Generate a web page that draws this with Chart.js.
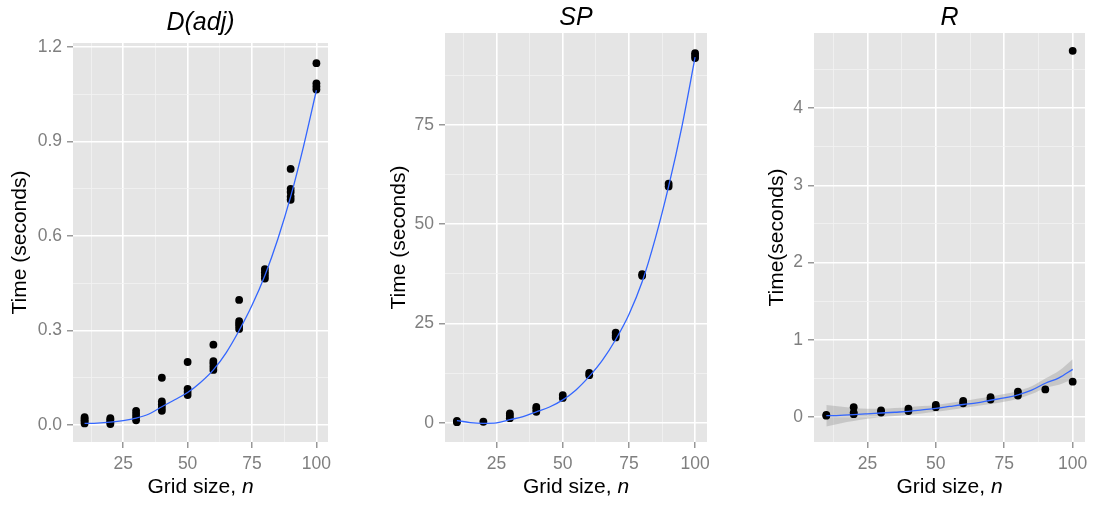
<!DOCTYPE html>
<html>
<head>
<meta charset="utf-8">
<script src="https://cdn.jsdelivr.net/npm/chart.js@4.4.1/dist/chart.umd.min.js"></script>
<style>
  html, body { margin: 0; padding: 0; background: #fff; }
  body { width: 1094px; height: 506px; position: relative; overflow: hidden; }
  canvas { position: absolute; top: 0; }
</style>
</head>
<body>
<canvas id="adj-chart" width="340" height="506" style="left:0px"></canvas>
<canvas id="sp-chart" width="360" height="506" style="left:360px"></canvas>
<canvas id="r-chart" width="364" height="506" style="left:730px"></canvas>
<script>
// grid sizes where runs were timed, several runs per size
const gridSizes = [10, 20, 30, 40, 50, 60, 70, 80, 90, 100];

const adjTimes = [
  [0.005, 0.01, 0.015, 0.02, 0.025],
  [0.003, 0.008, 0.012, 0.018, 0.022],
  [0.015, 0.025, 0.035, 0.045],
  [0.045, 0.055, 0.065, 0.075, 0.15],
  [0.095, 0.105, 0.115, 0.2],
  [0.175, 0.185, 0.195, 0.203, 0.255],
  [0.305, 0.315, 0.322, 0.33, 0.397],
  [0.465, 0.475, 0.485, 0.495],
  [0.715, 0.725, 0.74, 0.75, 0.813],
  [1.065, 1.075, 1.085, 1.149]
];

const spTimes = [
  [0.2, 0.5],
  [0.3],
  [1.2, 1.8, 2.4],
  [2.8, 3.5, 4.0],
  [6.3, 7.0],
  [12.0, 12.6],
  [21.5, 22.0, 22.7],
  [37.0, 37.4],
  [59.5, 60.2],
  [91.8, 92.4, 93.0]
];

const rTimes = [
  [0.02, 0.03],
  [0.04, 0.06, 0.13],
  [0.06, 0.09],
  [0.08, 0.11],
  [0.13, 0.16],
  [0.18, 0.21],
  [0.23, 0.26],
  [0.28, 0.33],
  [0.36],
  [0.46, 4.74]
];

// smoothed fits
const fitSizes = [10, 15, 20, 25, 30, 35, 40, 45, 50, 55, 60, 65, 70, 75, 80, 85, 90, 95, 100];
const adjFit = [0.005, 0.006, 0.009, 0.014, 0.022, 0.035, 0.058, 0.08, 0.103, 0.135, 0.175, 0.23, 0.3, 0.38, 0.475, 0.59, 0.725, 0.885, 1.063];
const spFit = [0.6, 0.1, -0.1, 0.0, 0.8, 1.6, 2.8, 4.0, 5.8, 8.3, 11.7, 15.8, 21.0, 27.3, 35.5, 46.5, 59.5, 74.5, 92.0];
const rFit = [0.02, 0.025, 0.035, 0.045, 0.055, 0.065, 0.075, 0.095, 0.115, 0.14, 0.165, 0.185, 0.22, 0.25, 0.29, 0.35, 0.44, 0.51, 0.62];
const rUpper = [0.16, 0.14, 0.12, 0.11, 0.11, 0.12, 0.13, 0.145, 0.16, 0.185, 0.21, 0.24, 0.27, 0.3, 0.34, 0.4, 0.5, 0.6, 0.75];
const rLower = [-0.12, -0.08, -0.05, -0.02, 0.0, 0.015, 0.03, 0.05, 0.07, 0.095, 0.12, 0.145, 0.17, 0.2, 0.24, 0.3, 0.38, 0.42, 0.49];

// axis ticks
const xMajor = [25, 50, 75, 100];
const xMinor = [12.5, 37.5, 62.5, 87.5];
const adjYMajor = [0, 0.3, 0.6, 0.9, 1.2];
const adjYMinor = [0.15, 0.45, 0.75, 1.05];
const adjYLabels = ["0.0", "0.3", "0.6", "0.9", "1.2"];
const spYMajor = [0, 25, 50, 75];
const spYMinor = [12.5, 37.5, 62.5, 87.5];
const spYLabels = ["0", "25", "50", "75"];
const rYMajor = [0, 1, 2, 3, 4];
const rYMinor = [0.5, 1.5, 2.5, 3.5, 4.5];
const rYLabels = ["0", "1", "2", "3", "4"];

const fontFamily = "'Liberation Sans', Arial, sans-serif";
const panelBg = "#E5E5E5";
const fitBlue = "#3366FF";

function runPoints(times) {
  return gridSizes.flatMap((n, i) => times[i].map((t) => ({ x: n, y: t })));
}

function curvePoints(values) {
  return fitSizes.map((n, i) => ({ x: n, y: values[i] }));
}

const panelBackground = {
  id: "panelBackground",
  beforeDraw(chart) {
    const { ctx, chartArea } = chart;
    ctx.save();
    ctx.fillStyle = panelBg;
    ctx.fillRect(chartArea.left, chartArea.top, chartArea.right - chartArea.left, chartArea.bottom - chartArea.top);
    ctx.restore();
  },
};

// "Grid size, n" with the n in italics
const gridTitle = {
  id: "gridTitle",
  afterDraw(chart, args, opts) {
    const { ctx, chartArea } = chart;
    ctx.save();
    const plain = `${opts.size}px ${fontFamily}`;
    const ital = `italic ${opts.size}px ${fontFamily}`;
    ctx.font = plain;
    const w1 = ctx.measureText(opts.text).width;
    ctx.font = ital;
    const w2 = ctx.measureText(opts.italicText).width;
    const x = (chartArea.left + chartArea.right) / 2 - (w1 + w2) / 2;
    ctx.fillStyle = "#000";
    ctx.textBaseline = "middle";
    ctx.font = plain;
    ctx.fillText(opts.text, x, opts.y);
    ctx.font = ital;
    ctx.fillText(opts.italicText, x + w1, opts.y);
    ctx.restore();
  },
};

function axisTicks(major, minor) {
  return [...major, ...minor].sort((a, b) => a - b).map((v) => ({ value: v }));
}

function makePanel(canvasId, p) {
  const isMajorX = (v) => xMajor.includes(v);
  const isMajorY = (v) => p.yMajor.includes(v);

  const datasets = [];
  if (p.lower) {
    datasets.push({
      data: curvePoints(p.upper),
      showLine: true,
      pointRadius: 0,
      borderWidth: 0,
      borderColor: "rgba(0,0,0,0)",
      backgroundColor: "rgba(153,153,153,0.4)",
      fill: "+1",
      cubicInterpolationMode: "monotone",
      order: 3,
    });
    datasets.push({
      data: curvePoints(p.lower),
      showLine: true,
      pointRadius: 0,
      borderWidth: 0,
      borderColor: "rgba(0,0,0,0)",
      fill: false,
      cubicInterpolationMode: "monotone",
      order: 4,
    });
  }
  datasets.push({
    data: runPoints(p.times),
    pointRadius: 3.9,
    pointBorderWidth: 0,
    pointBackgroundColor: "#000",
    order: 2,
  });
  datasets.push({
    data: curvePoints(p.fit),
    showLine: true,
    pointRadius: 0,
    borderColor: fitBlue,
    borderWidth: 1.3,
    fill: false,
    cubicInterpolationMode: "monotone",
    order: 1,
  });

  return new Chart(document.getElementById(canvasId), {
    type: "scatter",
    data: { datasets },
    plugins: [panelBackground, gridTitle],
    options: {
      responsive: false,
      animation: false,
      layout: { padding: { left: 0, right: p.padRight, top: 0, bottom: 0 } },
      plugins: {
        legend: { display: false },
        tooltip: { enabled: false },
        title: {
          display: true,
          fullSize: false,
          text: p.title,
          color: "#000",
          font: { family: fontFamily, size: 25, style: "italic", weight: "normal" },
          padding: p.titlePad,
        },
        gridTitle: { text: "Grid size, ", italicText: "n", size: 21, y: 487 },
      },
      scales: {
        x: {
          type: "linear",
          min: 5.5,
          max: 104.5,
          afterBuildTicks: (scale) => { scale.ticks = axisTicks(xMajor, xMinor); },
          afterFit: (scale) => { scale.height = 64; scale.paddingLeft = 0; scale.paddingRight = 0; },
          border: { display: false },
          grid: {
            color: (ctx) => (isMajorX(ctx.tick.value) ? "#FFFFFF" : "#F2F2F2"),
            lineWidth: (ctx) => (isMajorX(ctx.tick.value) ? 1.6 : 0.8),
            tickColor: (ctx) => (isMajorX(ctx.tick.value) ? "#7F7F7F" : "rgba(0,0,0,0)"),
            tickLength: 6,
            tickWidth: 1.2,
          },
          ticks: {
            autoSkip: false,
            maxRotation: 0,
            padding: 6,
            color: "#7F7F7F",
            font: { family: fontFamily, size: 17.5 },
            callback: (v) => (isMajorX(v) ? String(v) : ""),
          },
          title: { display: false },
        },
        y: {
          type: "linear",
          min: p.yMin,
          max: p.yMax,
          afterBuildTicks: (scale) => { scale.ticks = axisTicks(p.yMajor, p.yMinor); },
          afterFit: (scale) => { scale.width = p.axisWidth; scale.paddingTop = 0; scale.paddingBottom = 0; },
          border: { display: false },
          grid: {
            color: (ctx) => (isMajorY(ctx.tick.value) ? "#FFFFFF" : "#F2F2F2"),
            lineWidth: (ctx) => (isMajorY(ctx.tick.value) ? 1.6 : 0.8),
            tickColor: (ctx) => (isMajorY(ctx.tick.value) ? "#7F7F7F" : "rgba(0,0,0,0)"),
            tickLength: 6,
            tickWidth: 1.2,
          },
          ticks: {
            autoSkip: false,
            padding: 5,
            color: "#7F7F7F",
            font: { family: fontFamily, size: 17.5 },
            callback: (v) => {
              const i = p.yMajor.indexOf(v);
              return i >= 0 ? p.yLabels[i] : "";
            },
          },
          title: {
            display: true,
            text: p.yTitle,
            color: "#000",
            font: { family: fontFamily, size: 21 },
            padding: { top: p.yTitlePad, bottom: 0 },
          },
        },
      },
    },
  });
}

makePanel("adj-chart", {
  title: "D(adj)",
  titlePad: { top: 8, bottom: 5 },
  times: adjTimes,
  fit: adjFit,
  yMin: -0.054,
  yMax: 1.213,
  yMajor: adjYMajor,
  yMinor: adjYMinor,
  yLabels: adjYLabels,
  yTitle: "Time (seconds)",
  yTitlePad: 7.4,
  axisWidth: 73,
  padRight: 12,
});

makePanel("sp-chart", {
  title: "SP",
  titlePad: { top: 2.6, bottom: 0.4 },
  times: spTimes,
  fit: spFit,
  yMin: -4.8,
  yMax: 98.1,
  yMajor: spYMajor,
  yMinor: spYMinor,
  yLabels: spYLabels,
  yTitle: "Time (seconds)",
  yTitlePad: 26.4,
  axisWidth: 85,
  padRight: 13,
});

makePanel("r-chart", {
  title: "R",
  titlePad: { top: 3, bottom: 0 },
  times: rTimes,
  fit: rFit,
  upper: rUpper,
  lower: rLower,
  yMin: -0.32,
  yMax: 4.97,
  yMajor: rYMajor,
  yMinor: rYMinor,
  yLabels: rYLabels,
  yTitle: "Time(seconds)",
  yTitlePad: 34.4,
  axisWidth: 84,
  padRight: 9,
});
</script>
</body>
</html>
